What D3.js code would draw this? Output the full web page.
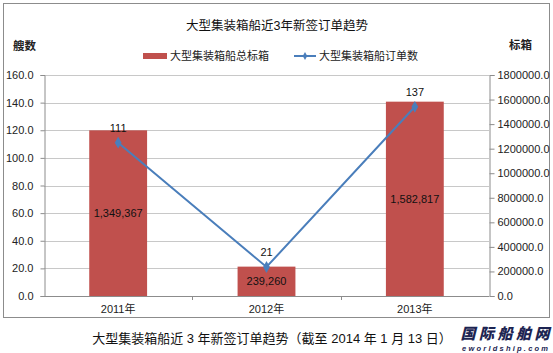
<!DOCTYPE html>
<html>
<head>
<meta charset="utf-8">
<script src="https://cdn.jsdelivr.net/npm/d3@7"></script>
<style>
  body { margin: 0; background: #fff; }
  svg { display: block; }
  text { font-family: "Liberation Sans", Arial, "Noto Sans CJK SC", sans-serif; }
  .cjk { font-family: "Liberation Sans", "Noto Sans CJK SC", sans-serif; }
</style>
</head>
<body>
<svg id="chart" width="553" height="353"></svg>
<script>
// data
const years = ["2011年", "2012年", "2013年"];
const teu = [1349367, 239260, 1582817];
const ships = [111, 21, 137];
const leftTicks = [0, 20, 40, 60, 80, 100, 120, 140, 160];
const rightTicks = [0, 200000, 400000, 600000, 800000, 1000000, 1200000, 1400000, 1600000, 1800000];

const svg = d3.select("#chart");
const margin = { left: 44, right: 489, top: 75, bottom: 296 };

// outer frame
svg.append("rect")
  .attr("x", 3.5).attr("y", 3.5)
  .attr("width", 546).attr("height", 314)
  .attr("fill", "#fff")
  .attr("stroke", "#8c8c8c");

const x = d3.scaleBand().domain(years).range([margin.left, margin.right]);
const yL = d3.scaleLinear().domain([0, 160]).range([margin.bottom, margin.top]);
const yR = d3.scaleLinear().domain([0, 1800000]).range([margin.bottom, margin.top]);

// gridlines
svg.append("g")
  .selectAll("line")
  .data(leftTicks.slice(1))
  .enter()
  .append("line")
  .attr("x1", margin.left).attr("x2", margin.right)
  .attr("y1", d => Math.round(yL(d)) + 0.5)
  .attr("y2", d => Math.round(yL(d)) + 0.5)
  .attr("stroke", "#c8c8c8");

// left axis
const leftAxis = svg.append("g")
  .attr("transform", `translate(${margin.left + 0.5},0)`)
  .call(d3.axisLeft(yL).tickValues(leftTicks).tickFormat(d3.format(".1f")).tickSize(4).tickPadding(7));
leftAxis.select(".domain").attr("stroke", "#8c8c8c");
leftAxis.selectAll(".tick line").attr("stroke", "#8c8c8c");
leftAxis.selectAll("text").attr("font-size", 11).attr("fill", "#222")
  .style("font-family", "'Liberation Sans', Arial, sans-serif");

// right axis
const rightAxis = svg.append("g")
  .attr("transform", `translate(${margin.right + 0.5},0)`)
  .call(d3.axisRight(yR).tickValues(rightTicks).tickFormat(d3.format(".1f")).tickSize(5).tickPadding(3));
rightAxis.select(".domain").attr("stroke", "#8c8c8c");
rightAxis.selectAll(".tick line").attr("stroke", "#8c8c8c");
rightAxis.selectAll("text").attr("font-size", 11).attr("fill", "#222")
  .style("font-family", "'Liberation Sans', Arial, sans-serif");

// bottom axis with ticks between categories
const bottom = svg.append("g");
bottom.append("line")
  .attr("x1", margin.left).attr("x2", margin.right)
  .attr("y1", margin.bottom + 0.5).attr("y2", margin.bottom + 0.5)
  .attr("stroke", "#8c8c8c");
bottom.selectAll(".sep")
  .data(years.slice(1))
  .enter()
  .append("line")
  .attr("x1", d => Math.round(x(d)) + 0.5).attr("x2", d => Math.round(x(d)) + 0.5)
  .attr("y1", margin.bottom).attr("y2", margin.bottom + 4)
  .attr("stroke", "#8c8c8c");
bottom.selectAll(".lbl")
  .data(years)
  .enter()
  .append("text")
  .attr("class", "cjk")
  .attr("x", d => x(d) + x.bandwidth() / 2)
  .attr("y", 313)
  .attr("text-anchor", "middle")
  .attr("font-size", 11)
  .attr("fill", "#222")
  .text(d => d);

// bars
const barW = x.bandwidth() * 0.39;
svg.append("g")
  .selectAll("rect")
  .data(teu)
  .enter()
  .append("rect")
  .attr("x", (d, i) => x(years[i]) + (x.bandwidth() - barW) / 2)
  .attr("y", d => yR(d))
  .attr("width", barW)
  .attr("height", d => margin.bottom - yR(d))
  .attr("fill", "#c0504d");

// bar labels
svg.append("g")
  .selectAll("text")
  .data(teu)
  .enter()
  .append("text")
  .attr("x", (d, i) => x(years[i]) + x.bandwidth() / 2)
  .attr("y", d => (yR(d) + margin.bottom) / 2 + 4)
  .attr("text-anchor", "middle")
  .attr("font-size", 11)
  .attr("fill", "#111")
  .text(d => d3.format(",")(d));

// line series
const cx = (d, i) => x(years[i]) + x.bandwidth() / 2;
const line = d3.line().x(cx).y(d => yL(d));
svg.append("path")
  .datum(ships)
  .attr("d", line)
  .attr("fill", "none")
  .attr("stroke", "#4a7ebb")
  .attr("stroke-width", 2);

svg.append("g")
  .selectAll("path")
  .data(ships)
  .enter()
  .append("path")
  .attr("d", d3.symbol().type(d3.symbolDiamond).size(40))
  .attr("transform", (d, i) => `translate(${cx(d, i)},${yL(d)})`)
  .attr("fill", "#4a7ebb");

svg.append("g")
  .selectAll("text")
  .data(ships)
  .enter()
  .append("text")
  .attr("x", cx)
  .attr("y", d => yL(d) - 11)
  .attr("text-anchor", "middle")
  .attr("font-size", 11)
  .attr("fill", "#111")
  .text(d => d);

// title, axis names
svg.append("text")
  .attr("class", "cjk")
  .attr("x", 277).attr("y", 30)
  .attr("text-anchor", "middle")
  .attr("font-size", 12.5)
  .attr("fill", "#111")
  .text("大型集装箱船近3年新签订单趋势");

svg.append("text")
  .attr("class", "cjk")
  .attr("x", 13).attr("y", 50)
  .attr("font-size", 11.5)
  .attr("font-weight", "bold")
  .attr("fill", "#222")
  .text("艘数");

svg.append("text")
  .attr("class", "cjk")
  .attr("x", 509).attr("y", 49)
  .attr("font-size", 11.5)
  .attr("font-weight", "bold")
  .attr("fill", "#222")
  .text("标箱");

// legend
const legend = svg.append("g");
legend.append("rect")
  .attr("x", 143).attr("y", 53)
  .attr("width", 24).attr("height", 6)
  .attr("fill", "#c0504d");
legend.append("text")
  .attr("class", "cjk")
  .attr("x", 170).attr("y", 60)
  .attr("font-size", 11)
  .attr("fill", "#222")
  .text("大型集装箱船总标箱");
legend.append("line")
  .attr("x1", 294).attr("x2", 316)
  .attr("y1", 56).attr("y2", 56)
  .attr("stroke", "#4a7ebb").attr("stroke-width", 2);
legend.append("path")
  .attr("d", d3.symbol().type(d3.symbolDiamond).size(18))
  .attr("transform", "translate(305,56)")
  .attr("fill", "#4a7ebb");
legend.append("text")
  .attr("class", "cjk")
  .attr("x", 319).attr("y", 60)
  .attr("font-size", 11)
  .attr("fill", "#222")
  .text("大型集装箱船订单数");

// caption below the frame
svg.append("text")
  .attr("class", "cjk")
  .attr("x", 272).attr("y", 343)
  .attr("text-anchor", "middle")
  .attr("font-size", 13)
  .attr("fill", "#111")
  .text("大型集装箱船近 3 年新签订单趋势（截至 2014 年 1 月 13 日）");

// watermark
svg.append("text")
  .attr("class", "cjk")
  .attr("x", 505).attr("y", 339)
  .attr("text-anchor", "middle")
  .attr("font-size", 15)
  .attr("font-weight", "900")
  .attr("font-style", "italic")
  .attr("fill", "#1c2452")
  .attr("textLength", 89)
  .text("国际船舶网");
svg.append("text")
  .attr("x", 505).attr("y", 351)
  .attr("text-anchor", "middle")
  .attr("font-size", 7.5)
  .attr("font-weight", "bold")
  .attr("font-style", "italic")
  .attr("fill", "#1c2452")
  .attr("textLength", 86)
  .text("eworldship.com");
</script>
</body>
</html>
